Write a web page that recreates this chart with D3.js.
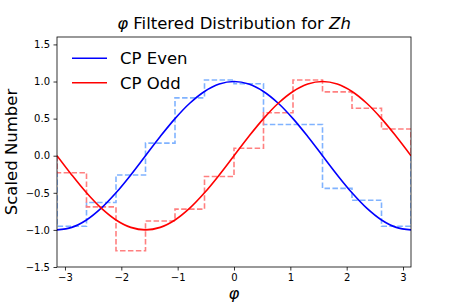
<!DOCTYPE html>
<html>
<head>
<meta charset="utf-8">
<script src="https://cdn.jsdelivr.net/npm/d3@7"></script>
<style>
  body { margin: 0; background: #fff; }
  text { font-family: "DejaVu Sans", sans-serif; }
</style>
</head>
<body>
<svg id="chart" width="457" height="305"></svg>
<script>
// bin edges: 12 bins over [-pi, pi]
var binEdges = [-3.1416, -2.618, -2.0944, -1.5708, -1.0472, -0.5236, 0, 0.5236, 1.0472, 1.5708, 2.0944, 2.618, 3.1416];
var evenHist = [-0.95, -0.63, -0.26, 0.17, 0.78, 1.02, 0.97, 0.42, 0.42, -0.44, -0.60, -0.95];
var oddHist = [-0.23, -0.69, -1.28, -0.88, -0.72, -0.28, 0.10, 0.58, 1.02, 0.86, 0.64, 0.36];

// smooth curves, sampled every pi/12
var curvePhi = [-3.1416, -2.8798, -2.618, -2.3562, -2.0944, -1.8326, -1.5708, -1.309, -1.0472, -0.7854, -0.5236, -0.2618, 0,
  0.2618, 0.5236, 0.7854, 1.0472, 1.309, 1.5708, 1.8326, 2.0944, 2.3562, 2.618, 2.8798, 3.1416];
var evenCurve = [-1, -0.966, -0.866, -0.707, -0.5, -0.259, 0, 0.259, 0.5, 0.707, 0.866, 0.966, 1,
  0.966, 0.866, 0.707, 0.5, 0.259, 0, -0.259, -0.5, -0.707, -0.866, -0.966, -1];
var oddCurve = [0, -0.259, -0.5, -0.707, -0.866, -0.966, -1, -0.966, -0.866, -0.707, -0.5, -0.259, 0,
  0.259, 0.5, 0.707, 0.866, 0.966, 1, 0.966, 0.866, 0.707, 0.5, 0.259, 0];

var xTicks = [-3, -2, -1, 0, 1, 2, 3];
var yTicks = [-1.5, -1.0, -0.5, 0.0, 0.5, 1.0, 1.5];
var legendLabels = ['CP Even', 'CP Odd'];

var L = 57, R = 411, T = 37, B = 267;
var svg = d3.select('#chart');

var x = d3.scaleLinear().domain([-Math.PI, Math.PI]).range([L, R]);
var y = d3.scaleLinear().domain([-1.5, 1.6]).range([B, T]);

svg.append('defs').append('clipPath').attr('id', 'clip')
  .append('rect').attr('x', L).attr('y', T).attr('width', R - L).attr('height', B - T);

var plot = svg.append('g').attr('clip-path', 'url(#clip)');

function stepPoints(vals) {
  var pts = [[binEdges[0], 0]];
  vals.forEach(function(v, i) {
    pts.push([binEdges[i], v]);
    pts.push([binEdges[i + 1], v]);
  });
  pts.push([binEdges[binEdges.length - 1], 0]);
  return pts;
}

var stepLine = d3.line().x(function(d) { return x(d[0]); }).y(function(d) { return y(d[1]); });

plot.append('path').attr('d', stepLine(stepPoints(evenHist)))
  .attr('fill', 'none').attr('stroke', '#80b3ff').attr('stroke-width', 1.6)
  .attr('stroke-dasharray', '5.5,2.4');
plot.append('path').attr('d', stepLine(stepPoints(oddHist)))
  .attr('fill', 'none').attr('stroke', '#ff8080').attr('stroke-width', 1.6)
  .attr('stroke-dasharray', '5.5,2.4');

var smooth = d3.line()
  .x(function(d, i) { return x(curvePhi[i]); })
  .y(function(d) { return y(d); })
  .curve(d3.curveCatmullRom);

plot.append('path').attr('d', smooth(evenCurve))
  .attr('fill', 'none').attr('stroke', '#0000ff').attr('stroke-width', 1.6);
plot.append('path').attr('d', smooth(oddCurve))
  .attr('fill', 'none').attr('stroke', '#ff0000').attr('stroke-width', 1.6);

// axes
var fmtY = function(d) { return d3.format('.1f')(d).replace('-', '\u2212'); };
var fmtX = function(d) { return String(d).replace('-', '\u2212'); };

var xAxis = svg.append('g').attr('transform', 'translate(0,' + B + ')')
  .call(d3.axisBottom(x).tickValues(xTicks).tickFormat(fmtX).tickSizeOuter(0).tickSize(3.5).tickPadding(3.5));
var yAxis = svg.append('g').attr('transform', 'translate(' + L + ',0)')
  .call(d3.axisLeft(y).tickValues(yTicks).tickFormat(fmtY).tickSizeOuter(0).tickSize(3.5).tickPadding(3.5));

[xAxis, yAxis].forEach(function(a) {
  a.select('.domain').remove();
  a.selectAll('text').attr('font-size', '10px').attr('font-family', 'DejaVu Sans').attr('fill', '#000');
  a.selectAll('line').attr('stroke', '#000').attr('stroke-width', 0.8);
});

svg.append('rect').attr('x', L).attr('y', T).attr('width', R - L).attr('height', B - T)
  .attr('fill', 'none').attr('stroke', '#000').attr('stroke-width', 0.8);

// title
var title = svg.append('text').attr('x', (L + R) / 2).attr('y', 29)
  .attr('text-anchor', 'middle').attr('font-size', '16.5px');
title.append('tspan').attr('font-style', 'italic').text('\u03c6');
title.append('tspan').text(' Filtered Distribution for ');
title.append('tspan').attr('font-style', 'italic').text('Zh');

// axis labels
svg.append('text').attr('x', (L + R) / 2).attr('y', 299)
  .attr('text-anchor', 'middle').attr('font-size', '16.5px').attr('font-style', 'italic').text('\u03c6');
svg.append('text').attr('transform', 'translate(17,' + ((T + B) / 2) + ') rotate(-90)')
  .attr('text-anchor', 'middle').attr('font-size', '16.5px').text('Scaled Number');

// legend
var legColors = ['#0000ff', '#ff0000'];
var leg = svg.append('g').selectAll('g').data(legendLabels).enter().append('g')
  .attr('transform', function(d, i) { return 'translate(72,' + (58.3 + i * 24.4) + ')'; });
leg.append('line').attr('x1', 0).attr('x2', 35).attr('y1', 0).attr('y2', 0)
  .attr('stroke', function(d, i) { return legColors[i]; }).attr('stroke-width', 1.6);
leg.append('text').attr('x', 48).attr('y', 6).attr('font-size', '16.5px').text(function(d) { return d; });
</script>
</body>
</html>
